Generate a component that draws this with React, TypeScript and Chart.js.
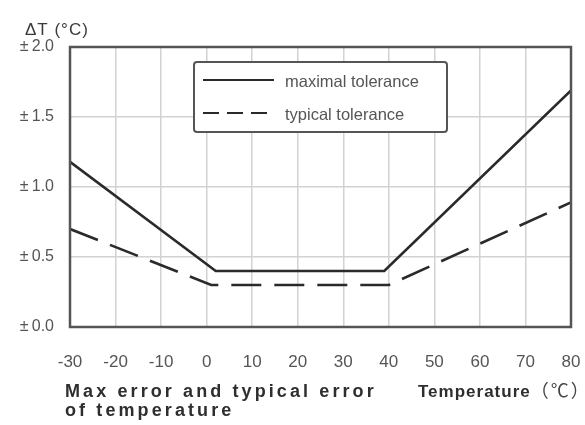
import { useEffect, useRef } from "react";
import { Chart, registerables } from "chart.js";

Chart.register(...registerables);

// ---- data ----
const maxTolTemps = [-30, 2, 39, 80];
const maxTolValues = [1.18, 0.4, 0.4, 1.69];
const typTolTemps = [-30, 1, 40, 80];
const typTolValues = [0.7, 0.3, 0.3, 0.89];
const xTickValues = [-30, -20, -10, 0, 10, 20, 30, 40, 50, 60, 70, 80];
const yTickValues = [0, 0.5, 1.0, 1.5, 2.0];
const seriesLabels = ["maximal tolerance", "typical tolerance"];
const yAxisTitle = "ΔT (°C)";
const captionLines = ["Max error and typical error", "of temperature"];
const xAxisTitle = "Temperature";
const xAxisUnit = "（℃）";

const FONT = "'Liberation Sans', Arial, 'Noto Sans CJK SC', sans-serif";
const CJK = "'Noto Sans CJK SC', 'Noto Sans CJK JP', sans-serif";

const textPlugin = {
  id: "customText",
  afterDraw(chart: any) {
    const ctx = chart.ctx as CanvasRenderingContext2D;
    ctx.save();
    ctx.textBaseline = "alphabetic";
    ctx.textAlign = "left";
    // y axis title
    ctx.fillStyle = "#3a3a3a";
    ctx.font = `17px ${FONT}`;
    (ctx as any).letterSpacing = "1px";
    ctx.fillText(yAxisTitle, 25, 35);
    // caption
    ctx.fillStyle = "#2e2e2e";
    ctx.font = `bold 18px ${FONT}`;
    (ctx as any).letterSpacing = "3.1px";
    ctx.fillText(captionLines[0], 65, 397);
    ctx.fillText(captionLines[1], 65, 416);
    // x axis title
    (ctx as any).letterSpacing = "1px";
    ctx.font = `bold 17px ${FONT}`;
    ctx.fillText(xAxisTitle, 418, 397);
    const w = ctx.measureText(xAxisTitle).width;
    (ctx as any).letterSpacing = "2px";
    ctx.font = `18px ${CJK}`;
    ctx.fillStyle = "#444";
    ctx.fillText(xAxisUnit, 418 + w, 397);
    ctx.restore();
  },
};

const framePlugin = {
  id: "frameAndLegend",
  afterDatasetsDraw(chart: any) {
    const ctx = chart.ctx as CanvasRenderingContext2D;
    const { left, top, right, bottom } = chart.chartArea;
    ctx.save();
    // plot frame
    ctx.strokeStyle = "#555";
    ctx.lineWidth = 2.5;
    ctx.setLineDash([]);
    ctx.strokeRect(left, top, right - left, bottom - top);

    // legend box
    const bx = 194;
    const by = 62;
    const bw = 253;
    const bh = 70;
    ctx.fillStyle = "#fff";
    ctx.strokeStyle = "#555";
    ctx.lineWidth = 2;
    ctx.beginPath();
    (ctx as any).roundRect(bx, by, bw, bh, 3);
    ctx.fill();
    ctx.stroke();

    const rows = [by + 18, by + 51];
    chart.data.datasets.forEach((ds: any, i: number) => {
      const y = rows[i];
      ctx.strokeStyle = ds.borderColor;
      ctx.lineWidth = 2;
      ctx.setLineDash(i === 1 ? [16, 8] : []);
      ctx.beginPath();
      ctx.moveTo(bx + 9, y);
      ctx.lineTo(bx + 80, y);
      ctx.stroke();
      ctx.setLineDash([]);
      ctx.fillStyle = "#555";
      ctx.font = `16.5px ${FONT}`;
      ctx.textBaseline = "middle";
      ctx.textAlign = "left";
      ctx.fillText(ds.label, bx + 91, y + 2);
    });
    ctx.restore();
  },
};

export default function App() {
  const canvasRef = useRef<HTMLCanvasElement | null>(null);

  useEffect(() => {
    if (!canvasRef.current) return;
    const chart = new Chart(canvasRef.current, {
      type: "line",
      data: {
        datasets: [
          {
            label: seriesLabels[0],
            data: maxTolTemps.map((x, i) => ({ x, y: maxTolValues[i] })),
            borderColor: "#2a2a2a",
            borderWidth: 2.6,
            pointRadius: 0,
            tension: 0,
            fill: false,
          },
          {
            label: seriesLabels[1],
            data: typTolTemps.map((x, i) => ({ x, y: typTolValues[i] })),
            borderColor: "#2a2a2a",
            borderWidth: 2.6,
            borderDash: [30, 13],
            pointRadius: 0,
            tension: 0,
            fill: false,
          },
        ],
      },
      options: {
        animation: false,
        responsive: true,
        maintainAspectRatio: false,
        layout: { padding: { top: 47, right: 14, left: 0, bottom: 0 } },
        plugins: {
          legend: { display: false },
          tooltip: { enabled: false },
        },
        scales: {
          x: {
            type: "linear",
            min: xTickValues[0],
            max: xTickValues[xTickValues.length - 1],
            afterBuildTicks: (scale: any) => {
              scale.ticks = xTickValues.map((v) => ({ value: v }));
            },
            afterFit: (scale: any) => {
              scale.height = 98;
            },
            grid: {
              color: "#d2d2d2",
              lineWidth: 1.5,
              drawTicks: true,
              tickLength: 24,
              tickColor: "rgba(0,0,0,0)",
            },
            border: { display: false },
            ticks: {
              autoSkip: false,
              maxRotation: 0,
              padding: 1,
              color: "#555",
              font: { family: FONT, size: 17 },
              callback: (v: any) => String(v),
            },
          },
          y: {
            type: "linear",
            min: yTickValues[0],
            max: yTickValues[yTickValues.length - 1],
            afterBuildTicks: (scale: any) => {
              scale.ticks = yTickValues.map((v) => ({ value: v }));
            },
            afterFit: (scale: any) => {
              scale.width = 70;
            },
            grid: {
              color: "#d2d2d2",
              lineWidth: 1.5,
              drawTicks: true,
              tickLength: 15,
              tickColor: "rgba(0,0,0,0)",
            },
            border: { display: false },
            ticks: {
              padding: 1,
              color: "#555",
              font: { family: FONT, size: 16 },
              callback: (v: any) => "±\u2009" + Number(v).toFixed(1),
            },
          },
        },
      },
      plugins: [framePlugin, textPlugin],
    });
    return () => chart.destroy();
  }, []);

  return (
    <div style={{ position: "absolute", left: 0, top: 0, width: 585, height: 425, background: "#fff" }}>
      <canvas ref={canvasRef} />
    </div>
  );
}
